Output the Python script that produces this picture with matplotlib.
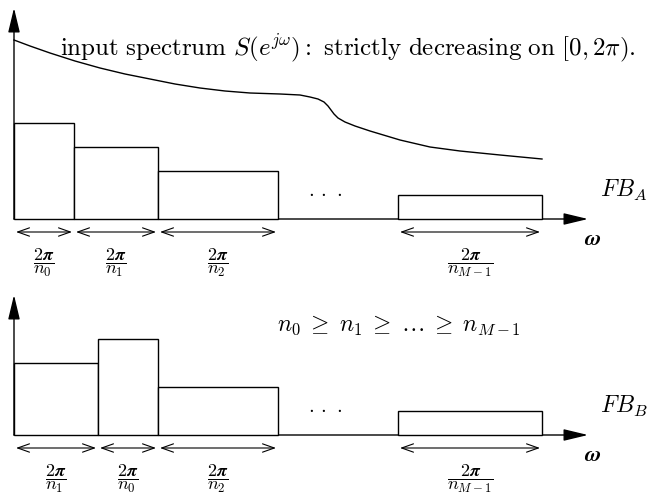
import numpy as np
import matplotlib
matplotlib.use('Agg')
import matplotlib.pyplot as plt
from matplotlib.patches import FancyArrowPatch

plt.rcParams['mathtext.fontset'] = 'cm'

# band edges (pixel x) and band levels (height above the frequency axis)
edges_a = [14, 74, 158, 278]
levels_a = [96, 72, 48]
edges_b = [14, 98, 158, 278]
levels_b = [72, 96, 48]
last_band = [398, 542]
last_level = 24

labels_a = [r'$\dfrac{\mathbf{2}\boldsymbol{\pi}}{\boldsymbol{n_0}}$',
            r'$\dfrac{\mathbf{2}\boldsymbol{\pi}}{\boldsymbol{n_1}}$',
            r'$\dfrac{\mathbf{2}\boldsymbol{\pi}}{\boldsymbol{n_2}}$']
labels_b = [r'$\dfrac{\mathbf{2}\boldsymbol{\pi}}{\boldsymbol{n_1}}$',
            r'$\dfrac{\mathbf{2}\boldsymbol{\pi}}{\boldsymbol{n_0}}$',
            r'$\dfrac{\mathbf{2}\boldsymbol{\pi}}{\boldsymbol{n_2}}$']
label_last = r'$\dfrac{\mathbf{2}\boldsymbol{\pi}}{\boldsymbol{n_{M-1}}}$'

# input spectrum (x, height above axis)
spec_x = [14, 30, 50, 75, 100, 125, 150, 175, 200, 225, 250, 280, 300, 310,
          318, 324, 328, 331, 334, 338, 345, 355, 370, 400, 430, 460, 500, 542]
spec_y = [179, 173, 166, 158, 151, 145, 140, 135, 131, 128, 126, 125, 124, 122,
          120, 117, 113, 109, 105, 101, 97, 93, 88, 79, 72, 68, 64, 60]

H = 497
fig = plt.figure(figsize=(6.5, 4.97), dpi=100)
ax = fig.add_axes([0, 0, 1, 1])
ax.set_xlim(0, 650)
ax.set_ylim(0, H)
ax.axis('off')


def axis_arrows(base, top):
    # vertical axis
    ax.add_patch(FancyArrowPatch((14, base), (14, top),
                                 arrowstyle='-|>,head_length=1.5,head_width=0.36',
                                 mutation_scale=10, lw=1, color='black',
                                 shrinkA=0, shrinkB=0))
    # frequency axis
    ax.add_patch(FancyArrowPatch((14, base), (588, base),
                                 arrowstyle='-|>,head_length=1.5,head_width=0.36',
                                 mutation_scale=10, lw=1, color='black',
                                 shrinkA=0, shrinkB=0))


def panel(base, edges, levels, labels, name):
    axis_arrows(base, base + 211 if name == 'A' else base + 140)
    lefts = edges[:-1] + [last_band[0]]
    widths = list(np.diff(edges)) + [last_band[1] - last_band[0]]
    heights = levels + [last_level]
    ax.bar(lefts, heights, width=widths, bottom=base, align='edge',
           facecolor='white', edgecolor='black', linewidth=1)
    spans = list(zip(edges[:-1], edges[1:])) + [tuple(last_band)]
    for (l, r), lab in zip(spans, labels + [label_last]):
        ax.add_patch(FancyArrowPatch((l + 2, base - 13), (r - 2, base - 13),
                                     arrowstyle='<->,head_length=0.85,head_width=0.3',
                                     mutation_scale=10, lw=0.8, color='black',
                                     shrinkA=0, shrinkB=0))
        ax.text((l + r) / 2, base - 44, lab, ha='center', va='center', fontsize=13)
    ax.text(325, base + 27, r'$\cdot\,\cdot\,\cdot$', ha='center', va='center', fontsize=15)
    ax.text(593, base - 20, r'$\boldsymbol{\omega}$', ha='center', va='center', fontsize=16)
    ax.text(600, base + 29, r'$FB_%s$' % name, ha='left', va='center', fontsize=17)


base_a = H - 219
base_b = H - 435
panel(base_a, edges_a, levels_a, labels_a, 'A')
panel(base_b, edges_b, levels_b, labels_b, 'B')

ax.plot(spec_x, [base_a + v for v in spec_y], color='black', lw=1)

ax.text(60, H - 48, r'$\mathrm{input\ spectrum}\ S(e^{j\omega})\mathrm{:\ strictly\ decreasing\ on}\ [0,2\pi).$',
        ha='left', va='center', fontsize=18)
ax.text(277, H - 325, r'$n_0\;\geq\;n_1\;\geq\;\ldots\;\geq\;n_{M-1}$',
        ha='left', va='center', fontsize=17)

fig.savefig('out.png', dpi=100)
